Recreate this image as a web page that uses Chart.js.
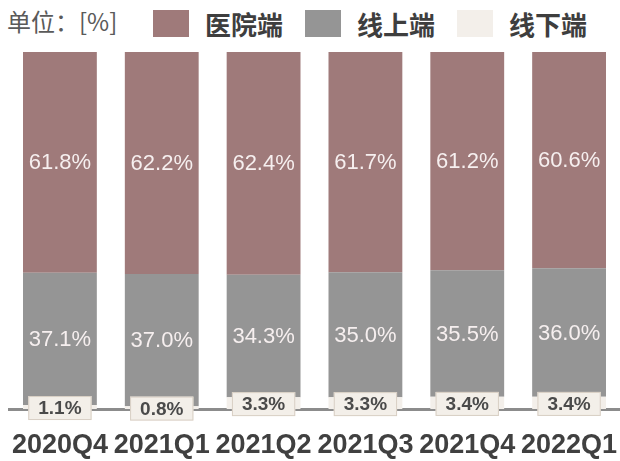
<!DOCTYPE html>
<html>
<head>
<meta charset="utf-8">
<script src="https://cdn.jsdelivr.net/npm/chart.js@4.4.0/dist/chart.umd.min.js"></script>
<style>
    body { margin: 0; width: 620px; height: 461px; background: #fff; position: relative; overflow: hidden; }
    #unit { position: absolute; left: 7px; top: 8px; font: 24px/26px "Noto Sans CJK SC", sans-serif; color: #5a5a5a; }
    .key { position: absolute; top: 10px; height: 27px; display: flex; align-items: center; }
    .key .box { width: 36px; height: 27px; margin-right: 16px; }
    .key .txt { font: bold 26px/27px "Noto Sans CJK SC", sans-serif; color: #3e3e3e; }
    #chart { position: absolute; left: 0; top: 0; }
</style>
</head>
<body>
<div id="unit">单位：[%]</div>
<div class="key" style="left:153px"><span class="box" style="background:#9f7a7a"></span><span class="txt">医院端</span></div>
<div class="key" style="left:305px"><span class="box" style="background:#959595"></span><span class="txt">线上端</span></div>
<div class="key" style="left:457px"><span class="box" style="background:#f3efea"></span><span class="txt">线下端</span></div>
<canvas id="chart" width="620" height="461"></canvas>

<script type="text/javascript">
    var quarters = ["2020Q4", "2021Q1", "2021Q2", "2021Q3", "2021Q4", "2022Q1"];
    var hospital = [61.8, 62.2, 62.4, 61.7, 61.2, 60.6];
    var online   = [37.1, 37.0, 34.3, 35.0, 35.5, 36.0];
    var offline  = [1.1, 0.8, 3.3, 3.3, 3.4, 3.4];

    // value labels: white text inside big segments, boxed label for the thin offline one
    var segmentLabels = {
        id: 'segmentLabels',
        afterDatasetsDraw: function(chart) {
            var ctx = chart.ctx;
            chart.data.datasets.forEach(function(ds, di) {
                var meta = chart.getDatasetMeta(di);
                meta.data.forEach(function(bar, i) {
                    var txt = ds.data[i].toFixed(1) + '%';
                    var y = (bar.y + bar.base) / 2;
                    ctx.save();
                    ctx.textAlign = 'center';
                    ctx.textBaseline = 'middle';
                    if (di === 0) {
                        y += 1;
                        ctx.font = 'bold 19px "Liberation Sans"';
                        var w = ctx.measureText(txt).width + 20;
                        ctx.fillStyle = '#f3efe9';
                        ctx.fillRect(bar.x - w / 2, y - 12, w, 24);
                        ctx.strokeStyle = '#d8cfc4';
                        ctx.lineWidth = 1;
                        ctx.strokeRect(bar.x - w / 2 + 0.5, y - 11.5, w - 1, 23);
                        ctx.fillStyle = '#4a4a4a';
                        ctx.fillText(txt, bar.x, y + 1);
                    } else {
                        ctx.font = '22px "Liberation Sans"';
                        ctx.fillStyle = '#f6efef';
                        ctx.fillText(txt, bar.x, y + 1);
                    }
                    ctx.restore();
                });
            });
        }
    };

    new Chart(document.getElementById('chart').getContext('2d'), {
        type: 'bar',
        data: {
            labels: quarters,
            datasets: [
                { label: '线下端', data: offline, backgroundColor: '#f3efea' },
                { label: '线上端', data: online, backgroundColor: '#959595' },
                { label: '医院端', data: hospital, backgroundColor: '#9f7a7a' }
            ]
        },
        options: {
            responsive: false,
            animation: false,
            barPercentage: 0.725,
            categoryPercentage: 1,
            layout: { padding: { left: 9, right: 0, top: 52, bottom: 2 } },
            plugins: { legend: { display: false }, tooltip: { enabled: false } },
            scales: {
                x: {
                    stacked: true,
                    grid: { display: false, drawTicks: false },
                    border: { display: true, color: '#8c8c8c', width: 3 },
                    ticks: {
                        font: { family: 'Liberation Sans', size: 27, weight: 'bold' },
                        color: '#404040',
                        padding: 20,
                        maxRotation: 0,
                        autoSkip: false
                    },
                    // keep the axis band fixed and let the end labels run to the edges
                    afterFit: function(scale) {
                        scale.height = 50;
                        scale.paddingLeft = 0;
                        scale.paddingRight = 0;
                    }
                },
                y: { stacked: true, display: false, min: 0, max: 100 }
            }
        },
        plugins: [segmentLabels]
    });
</script>
</body>
</html>
